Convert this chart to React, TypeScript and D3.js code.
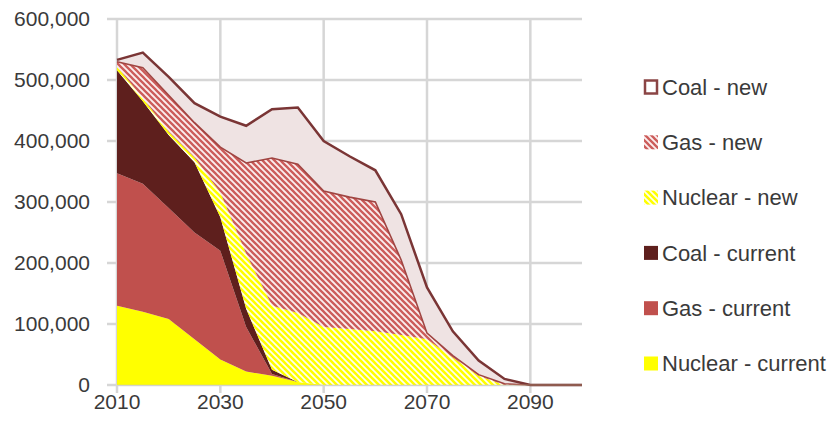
import React from "react";
import * as d3 from "d3";

const years = [2010, 2015, 2020, 2025, 2030, 2035, 2040, 2045, 2050, 2055, 2060, 2065, 2070, 2075, 2080, 2085, 2090, 2095, 2100];
const nuclearCurrent = [130000, 120000, 108000, 75000, 42000, 22000, 15000, 5000, 0, 0, 0, 0, 0, 0, 0, 0, 0, 0, 0];
const gasCurrent = [217000, 210000, 182000, 175000, 178000, 73000, 3000, 0, 0, 0, 0, 0, 0, 0, 0, 0, 0, 0, 0];
const coalCurrent = [169000, 135000, 120000, 115000, 55000, 30000, 7000, 0, 0, 0, 0, 0, 0, 0, 0, 0, 0, 0, 0];
const nuclearNew = [6000, 5000, 5000, 8000, 40000, 90000, 105000, 113000, 95000, 92000, 88000, 82000, 75000, 45000, 15000, 0, 0, 0, 0];
const gasNew = [8000, 50000, 60000, 57000, 75000, 149000, 242000, 244000, 223000, 216000, 212000, 123000, 10000, 3000, 2000, 2000, 0, 0, 0];
const coalNew = [3000, 25000, 30000, 32000, 50000, 61000, 80000, 93000, 82000, 67000, 52000, 75000, 75000, 40000, 23000, 8000, 0, 0, 0];

const seriesKeys = ["Nuclear - current", "Gas - current", "Coal - current", "Nuclear - new", "Gas - new", "Coal - new"];
const seriesValues = [nuclearCurrent, gasCurrent, coalCurrent, nuclearNew, gasNew, coalNew];
const legendOrder = ["Coal - new", "Gas - new", "Nuclear - new", "Coal - current", "Gas - current", "Nuclear - current"];
const yTicks = [0, 100000, 200000, 300000, 400000, 500000, 600000];
const xTicks = [2010, 2030, 2050, 2070, 2090];

const fills: Record<string, string> = {
  "Nuclear - current": "#ffff00",
  "Gas - current": "#c0504d",
  "Coal - current": "#5e1f1d",
  "Nuclear - new": "url(#hatchYellow)",
  "Gas - new": "url(#hatchRed)",
  "Coal - new": "#efe3e3",
};
const strokes: Record<string, string> = {
  "Gas - new": "#a04542",
  "Coal - new": "#7a3535",
};

export default function App() {
  const W = 835, H = 442;
  const x0 = 117, x1 = 582, yTop = 19, yBot = 385;
  const x = d3.scaleLinear().domain([2010, 2100]).range([x0, x1]);
  const y = d3.scaleLinear().domain([0, 600000]).range([yBot, yTop]);

  const table = years.map((yr, i) => {
    const row: any = { year: yr };
    seriesKeys.forEach((k, j) => (row[k] = seriesValues[j][i]));
    return row;
  });
  const stacked = d3.stack<any>().keys(seriesKeys)(table);
  const area = d3
    .area<any>()
    .x((d) => x(d.data.year))
    .y0((d) => y(d[0]))
    .y1((d) => y(d[1]));
  const topLine = d3
    .line<any>()
    .x((d) => x(d.data.year))
    .y((d) => y(d[1]));

  const font = "'Liberation Sans', Arial, sans-serif";
  const textColor = "#3a3a3a";
  const hatch = "M-2,-2 L8,8 M-2,4 L2,8 M4,-2 L8,2";

  return (
    <svg width={W} height={H} style={{ display: "block", position: "absolute", left: 0, top: 0 }}>
      <defs>
        <pattern id="hatchRed" patternUnits="userSpaceOnUse" width="6" height="6">
          <rect width="6" height="6" fill="#fbeeee" />
          <path d={hatch} stroke="#cc5c5a" strokeWidth="2.3" />
        </pattern>
        <pattern id="hatchYellow" patternUnits="userSpaceOnUse" width="6" height="6">
          <rect width="6" height="6" fill="#fffff0" />
          <path d={hatch} stroke="#ffff00" strokeWidth="2.6" />
        </pattern>
      </defs>
      <rect width={W} height={H} fill="#ffffff" />
      {yTicks.map((t) => (
        <line key={"gy" + t} x1={107} x2={x1} y1={y(t)} y2={y(t)} stroke="#d6d6d6" strokeWidth={2.5} />
      ))}
      {xTicks.map((t) => (
        <line key={"gx" + t} x1={x(t)} x2={x(t)} y1={yTop} y2={yBot + 8} stroke="#d6d6d6" strokeWidth={2.5} />
      ))}
      {stacked.map((s) => (
        <path key={s.key} d={area(s) || ""} fill={fills[s.key]} stroke="none" />
      ))}
      {stacked
        .filter((s) => strokes[s.key])
        .map((s) => (
          <path key={"l" + s.key} d={topLine(s) || ""} fill="none" stroke={strokes[s.key]} strokeWidth={s.key === "Coal - new" ? 2.5 : 1.6} />
        ))}
      <line x1={x0} x2={x1} y1={yBot} y2={yBot} stroke="#d0d0a0" strokeWidth={1} opacity={0.5} />
      {yTicks.map((t) => (
        <text key={"ty" + t} x={90} y={y(t)} dy="0.35em" textAnchor="end" fontFamily={font} fontSize={21} fill={textColor}>
          {d3.format(",")(t)}
        </text>
      ))}
      {xTicks.map((t) => (
        <text key={"tx" + t} x={x(t)} y={409} textAnchor="middle" fontFamily={font} fontSize={21} fill={textColor}>
          {t}
        </text>
      ))}
      {legendOrder.map((k, i) => {
        const cy = 87 + i * 55.3;
        return (
          <g key={"lg" + k}>
            {k === "Coal - new" ? (
              <rect x={645} y={cy - 6.5} width={12} height={13} fill="#ffffff" stroke="#8b4545" strokeWidth={2.5} />
            ) : (
              <rect x={644} y={cy - 7} width={14} height={14} fill={fills[k]} />
            )}
            <text x={662} y={cy} dy="0.35em" fontFamily={font} fontSize={22} fill={textColor}>
              {k}
            </text>
          </g>
        );
      })}
    </svg>
  );
}
